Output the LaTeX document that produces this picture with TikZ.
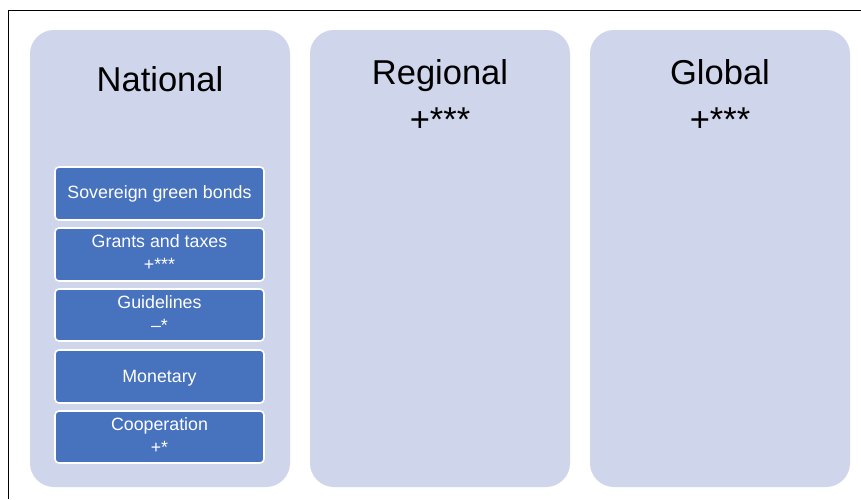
\documentclass[tikz,border=0pt]{standalone}
\usepackage{fontspec}
\setmainfont{Liberation Sans}
\definecolor{panelfill}{HTML}{CFD5EA}
\definecolor{boxfill}{HTML}{4672BE}
\begin{document}
\begin{tikzpicture}[x=1pt,y=-1pt,
  panel/.style={fill=panelfill, draw=none, rounded corners=24pt},
  subbox/.style={fill=boxfill, draw=white, line width=1.6pt, rounded corners=4pt},
  boxtext/.style={anchor=base, text=white, inner sep=0pt, font=\fontsize{17.8}{21}\selectfont},
  title/.style={anchor=base, text=black, inner sep=0pt, font=\fontsize{34.5}{40}\selectfont}]
\useasboundingbox (0,0) rectangle (861,499);
\fill[white] (0,0) rectangle (861,499);
\draw[black, line width=1pt] (8.5,499) -- (8.5,10) -- (861,10);
% panels
\path[panel] (30,30) rectangle (290,487);
\path[panel] (310,30) rectangle (570,487);
\path[panel] (590,30) rectangle (850,487);
\node[title] (national) at (160,91.7) {National};
\node[title] (regional) at (440,84.3) {Regional};
\node[title] (regionalsig) at (440,131) {+***};
\node[title] (global) at (720,84.3) {Global};
\node[title] (globalsig) at (720,131) {+***};
% sub boxes
\path[subbox] (55,167) rectangle (264,220);
\path[subbox] (55,228) rectangle (264,281);
\path[subbox] (55,289) rectangle (264,341);
\path[subbox] (55,350) rectangle (264,403);
\path[subbox] (55,411) rectangle (264,463);
\node[boxtext] (sgb) at (159.5,198.5) {Sovereign green bonds};
\node[boxtext] (gat) at (159.5,247.3) {Grants and taxes};
\node[boxtext] (gatsig) at (159.5,270.3) {+***};
\node[boxtext] (gui) at (159.5,308) {Guidelines};
\node[boxtext] (guisig) at (159.5,331) {–*};
\node[boxtext] (mon) at (159.5,382.3) {Monetary};
\node[boxtext] (coo) at (159.5,430.5) {Cooperation};
\node[boxtext] (coosig) at (159.5,453.5) {+*};
\end{tikzpicture}
\end{document}
